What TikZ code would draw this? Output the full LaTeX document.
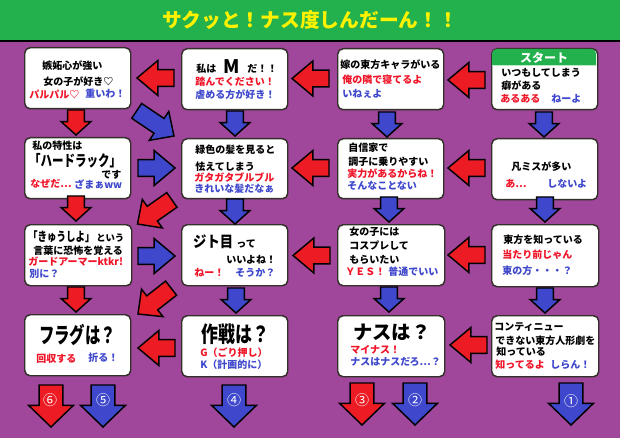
\documentclass[tikz,border=0pt]{standalone}
\usepackage{fontspec}
\setmainfont{Noto Sans CJK JP}
\usetikzlibrary{shapes.arrows}
\definecolor{bgp}{RGB}{160,71,155}
\definecolor{tgreen}{RGB}{34,177,76}
\definecolor{ared}{RGB}{237,28,36}
\definecolor{ablue}{RGB}{63,72,204}
\definecolor{tred}{RGB}{240,20,40}
\definecolor{tblue}{RGB}{63,72,204}
\tikzset{
 x=0.75pt,y=-0.75pt,
 qbox/.style={draw=black!85!olive,line width=1.1pt,fill=white,rounded corners=4pt,anchor=north west,inner sep=0pt},
 arr/.style={draw=black,line width=1.1pt,shape=single arrow,anchor=tip,inner xsep=0pt,outer sep=0pt,minimum width=0pt},
 smallh/.style={arr,inner ysep=7.7*0.75pt,minimum height=37*0.75pt,single arrow head extend=9*0.75pt,single arrow tip angle=80},
 smallv/.style={arr,rotate=-90,inner ysep=7.7*0.75pt,minimum height=25*0.75pt,single arrow head extend=6.5*0.75pt,single arrow tip angle=96},
 bigv/.style={arr,rotate=-90,inner ysep=11.2*0.75pt,minimum height=42*0.75pt,single arrow head extend=10.5*0.75pt,single arrow tip angle=92},
 diag/.style={arr,inner ysep=8.2*0.75pt,minimum height=42*0.75pt,single arrow head extend=8.5*0.75pt,single arrow tip angle=88},
 txt/.style={anchor=west,inner sep=0pt,font=\fontsize{7.5}{7.5}\selectfont\bfseries,text=black},
 rt/.style={txt,text=tred},
 bt/.style={txt,text=tblue},
 num/.style={inner sep=0pt,text=white,font=\fontsize{10.5}{10.5}\selectfont},
}
\begin{document}
\begin{tikzpicture}
\useasboundingbox (0,0) rectangle (620,438);
\fill[bgp] (0,0) rectangle (620,438);
\fill[tgreen] (0,0) rectangle (620,41);
\draw[black,line width=0.9pt] (0,41) -- (620,41);
\node[inner sep=0pt,text=yellow,font=\fontsize{14.8}{14.8}\selectfont\bfseries] (title) at (310,20) {サクッと！ナス度しんだーん！！};

% boxes
\newcommand\qb[5]{\node[qbox,minimum width=#4*0.75pt,minimum height=#5*0.75pt] (#1) at (#2,#3) {};}
\qb{b11}{24}{47}{106}{61}\qb{b12}{181}{48}{106}{61}\qb{b13}{337}{48}{106}{61}\qb{b14}{491}{48}{106}{61}
\qb{b21}{24}{137}{106}{61}\qb{b22}{181}{138}{106}{60}\qb{b23}{337}{138}{106}{60}\qb{b24}{491}{138}{106}{61}
\qb{b31}{24}{224}{107}{61}\qb{b32}{181}{224}{106}{61}\qb{b33}{337}{224}{107}{61}\qb{b34}{491}{224}{107}{62}
\qb{b41}{24}{314}{106}{61}\qb{b42}{181}{315}{106}{61}\qb{b43}{337}{315}{107}{61}\qb{b44}{491}{315}{107}{61}
% start header
\fill[tgreen,rounded corners=3.4pt] (492,65) [sharp corners] -- (492,53) [rounded corners=3.4pt] -- (492,49) -- (596,49) -- (596,53) [sharp corners] -- (596,65) -- cycle;
\draw[white!70!tgreen,line width=0.6pt] (492,65.5) -- (596,65.5);
\node[inner sep=0pt,text=white,font=\fontsize{9}{9}\selectfont\bfseries] (start) at (544,57.5) {スタート};

% horizontal arrows
\node[smallh,fill=ared,rotate=180] (a1) at (137,78) {};
\node[smallh,fill=ared,rotate=180] (a2) at (292,78.5) {};
\node[smallh,fill=ared,rotate=180] (a3) at (448,80) {};
\node[smallh,fill=ablue] (a4) at (175,168) {};
\node[smallh,fill=ared,rotate=180] (a5) at (292,168) {};
\node[smallh,fill=ared,rotate=180] (a6) at (448,168) {};
\node[smallh,fill=ablue] (a7) at (175,256) {};
\node[smallh,fill=ared,rotate=180] (a8) at (293,255.5) {};
\node[smallh,fill=ared,rotate=180] (a9) at (448,255) {};
\node[smallh,fill=ared,rotate=180] (a10) at (138,348) {};
\node[smallh,fill=ared,rotate=180] (a11) at (450,345) {};

% vertical arrows
\node[smallv,fill=ared] (v1) at (76,135) {};
\node[smallv,fill=ablue] (v2) at (235,136) {};
\node[smallv,fill=ablue] (v3) at (387,137) {};
\node[smallv,fill=ablue] (v4) at (544,137) {};
\node[smallv,fill=ared] (v5) at (76,221) {};
\node[smallv,fill=ablue] (v6) at (235,224) {};
\node[smallv,fill=ablue] (v7) at (389,222) {};
\node[smallv,fill=ablue] (v8) at (545,222) {};
\node[smallv,fill=ared] (v9) at (76,312) {};
\node[smallv,fill=ablue] (v10) at (236,313) {};
\node[smallv,fill=ablue] (v11) at (389,312) {};
\node[smallv,fill=ablue] (v12) at (545,313) {};

% diagonal arrows
\node[diag,fill=ablue,rotate=-34,minimum height=45*0.75pt] (d1) at (174,136) {};
\node[diag,fill=ared,rotate=215] (d2) at (137.5,224) {};
\node[diag,fill=ared,rotate=218] (d3) at (138,314) {};

% exit arrows
\node[bigv,fill=ared] (e6) at (51,427) {};
\node[bigv,fill=ablue] (e5) at (103,427) {};
\node[bigv,fill=ablue] (e4) at (234,427) {};
\node[bigv,fill=ared] (e3) at (362,425) {};
\node[bigv,fill=ablue] (e2) at (415,425) {};
\node[bigv,fill=ablue] (e1) at (571,425) {};
\node[num] (n6) at (50,400) {⑥};
\node[num] (n5) at (103,400) {⑤};
\node[num] (n4) at (234,400) {④};
\node[num] (n3) at (362,400) {③};
\node[num] (n2) at (415,400) {②};
\node[num] (n1) at (571,401) {①};

% row 1
\node[txt] (t1a) at (42,66) {嫉妬心が強い};
\node[txt] (t1b) at (43,82) {女の子が好き♡};
\node[rt] (t1c) at (29,95) {パルパル♡};
\node[bt] (t1d) at (85,94) {重いわ！};
\node[txt] (t2a) at (196,69) {私は};
\node[txt,font=\fontsize{14}{14}\selectfont\bfseries] (t2m) at (223,67) {M};
\node[txt] (t2b) at (247,69) {だ！！};
\node[rt] (t2c) at (195,82) {踏んでください！};
\node[bt] (t2d) at (195,95) {虐める方が好き！};
\node[txt] (t3a) at (340,65) {嫁の東方キャラがいる};
\node[rt] (t3b) at (342,80) {俺の隣で寝てるよ};
\node[bt] (t3c) at (342,94) {いねぇよ};
\node[txt] (t4a) at (501,73) {いつもしてしまう};
\node[txt] (t4b) at (501,86) {癖がある};
\node[rt] (t4c) at (500,99) {あるある};
\node[bt] (t4d) at (551,99) {ねーよ};
% row 2
\node[txt] (t5a) at (32,146) {私の特性は};
\node[txt,font=\fontsize{11.5}{11.5}\selectfont\bfseries,xscale=.75] (t5b) at (29,161) {「ハードラック」};
\node[txt] (t5c) at (101,175) {です};
\node[rt] (t5d) at (30,184) {なぜだ…};
\node[bt] (t5e) at (74,184) {ざまぁww};
\node[txt] (t6a) at (195,150) {緑色の髪を見ると};
\node[txt] (t6b) at (195,167) {怯えてしまう};
\node[rt] (t6c) at (194,178) {ガタガタブルブル};
\node[bt] (t6d) at (194,189) {きれいな髪だなぁ};
\node[txt] (t7a) at (348,148) {自信家で};
\node[txt] (t7b) at (348,162) {調子に乗りやすい};
\node[rt] (t7c) at (347,174) {実力があるからね！};
\node[bt] (t7d) at (347,186) {そんなことない};
\node[txt] (t8a) at (511,167) {凡ミスが多い};
\node[rt] (t8b) at (505,184) {あ…};
\node[bt] (t8c) at (547,184) {しないよ};
% row 3
\node[txt,font=\fontsize{9.5}{9.5}\selectfont\bfseries,xscale=.75] (t9a) at (28,237) {「きゅうしよ」};
\node[txt,font=\fontsize{7}{7}\selectfont\bfseries] (t9b) at (96,238) {という};
\node[txt] (t9c) at (33,251) {言葉に恐怖を覚える};
\node[rt] (t9d) at (28,262) {ガードアーマーktkr!};
\node[bt] (t9e) at (29,274) {別に？};
\node[txt,font=\fontsize{11.5}{11.5}\selectfont\bfseries,xscale=.87] (t10a) at (193,242) {ジト目};
\node[txt] (t10b) at (236,244) {って};
\node[txt] (t10c) at (226,260) {いいよね！};
\node[rt] (t10d) at (194,273) {ねー！};
\node[bt] (t10e) at (235,273) {そうか？};
\node[txt] (t11a) at (349,232) {女の子には};
\node[txt] (t11b) at (349,246) {コスプレして};
\node[txt] (t11c) at (349,260) {もらいたい};
\node[rt] (t11d) at (345,272) {ＹＥＳ！};
\node[bt] (t11e) at (388,272) {普通でいい};
\node[txt] (t12a) at (503,240) {東方を知っている};
\node[rt] (t12b) at (502,255) {当たり前じゃん};
\node[bt] (t12c) at (502,271) {東の方・・・？};
% row 4
\node[txt,font=\fontsize{16.5}{16.5}\selectfont\bfseries,xscale=.7] (t13a) at (39,335) {フラグは？};
\node[rt] (t13b) at (36,359) {回収する};
\node[bt] (t13c) at (88,358) {折る！};
\node[txt,font=\fontsize{16.5}{16.5}\selectfont\bfseries,xscale=.77] (t14a) at (201,334) {作戦は？};
\node[rt] (t14b) at (200,353) {G（ごり押し）};
\node[bt] (t14c) at (200,365) {K（計画的に）};
\node[txt,font=\fontsize{14.5}{14.5}\selectfont\bfseries] (t15a) at (353,332) {ナスは？};
\node[rt] (t15b) at (350,350) {マイナス！};
\node[bt] (t15c) at (350,362) {ナスはナスだろ…？};
\node[txt] (t16a) at (494,327) {コンティニュー};
\node[txt] (t16b) at (495,341) {できない東方人形劇を};
\node[txt] (t16c) at (496,352) {知っている};
\node[rt] (t16d) at (495,365) {知ってるよ};
\node[bt] (t16e) at (550,365) {しらん！};
\end{tikzpicture}
\end{document}
